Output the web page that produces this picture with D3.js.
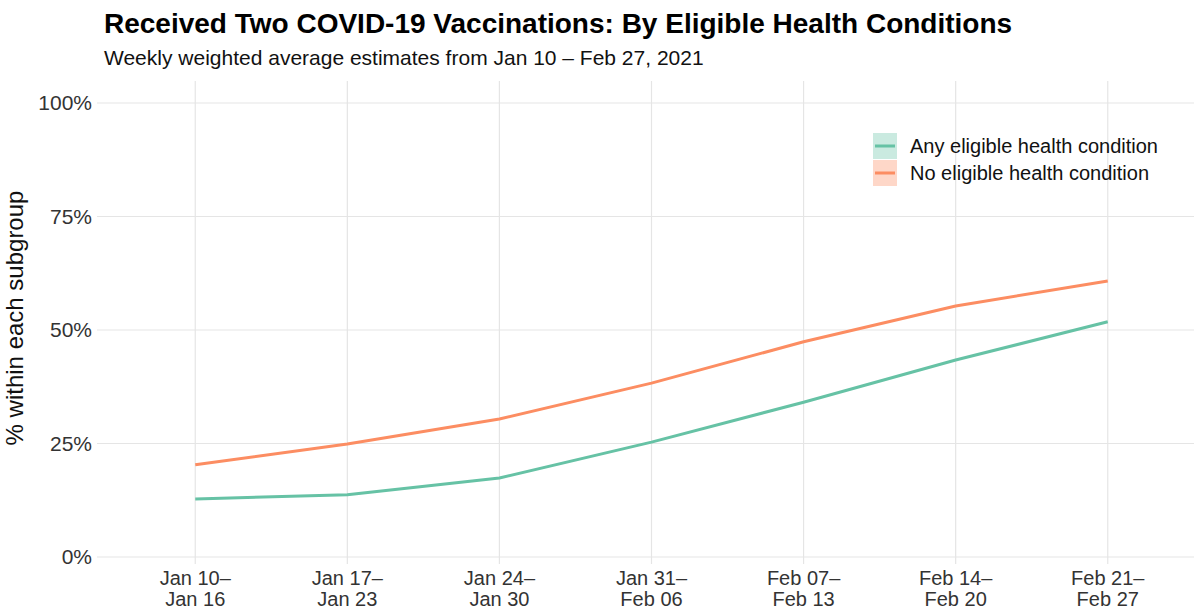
<!DOCTYPE html>
<html>
<head>
<meta charset="utf-8">
<script src="https://cdn.jsdelivr.net/npm/d3@7"></script>
<style>
  body { margin: 0; background: #fff; }
  svg text { font-family: "Liberation Sans", Arial, sans-serif; }
</style>
</head>
<body>
<div id="chart"></div>
<script>
// week labels (two lines each)
var weekStart = ["Jan 10\u2013", "Jan 17\u2013", "Jan 24\u2013", "Jan 31\u2013", "Feb 07\u2013", "Feb 14\u2013", "Feb 21\u2013"];
var weekEnd = ["Jan 16", "Jan 23", "Jan 30", "Feb 06", "Feb 13", "Feb 20", "Feb 27"];

// % received two doses
var anyCondition = [12.8, 13.7, 17.4, 25.3, 34.1, 43.4, 51.8];
var noCondition = [20.3, 24.9, 30.4, 38.3, 47.4, 55.3, 60.8];

var seriesNames = ["Any eligible health condition", "No eligible health condition"];
var seriesColors = ["#66c2a5", "#fc8d62"];

var yTicks = [0, 25, 50, 75, 100];

var svgWidth = 1194, svgHeight = 612;
var margin = { top: 81, right: -5, bottom: 55, left: 104 };

var svg = d3.select("#chart")
    .append("svg")
    .attr("width", svgWidth)
    .attr("height", svgHeight);

var xScale = d3.scalePoint()
    .domain(weekStart)
    .range([margin.left, svgWidth - margin.right])
    .padding(0.6);

var yScale = d3.scaleLinear()
    .domain([0, 100])
    .range([557, 103]);

// grid
var grid = svg.append("g");
grid.selectAll(".hgrid")
    .data(yTicks)
    .enter()
    .append("line")
    .attr("x1", margin.left - 7)
    .attr("x2", svgWidth)
    .attr("y1", d => yScale(d))
    .attr("y2", d => yScale(d))
    .attr("stroke", "#e5e5e5")
    .attr("stroke-width", 1.2);

grid.selectAll(".vgrid")
    .data(weekStart)
    .enter()
    .append("line")
    .attr("x1", d => xScale(d))
    .attr("x2", d => xScale(d))
    .attr("y1", margin.top)
    .attr("y2", 564)
    .attr("stroke", "#e5e5e5")
    .attr("stroke-width", 1.2);

// y tick labels
svg.append("g").selectAll("text")
    .data(yTicks)
    .enter()
    .append("text")
    .attr("x", 92)
    .attr("y", d => yScale(d))
    .attr("dy", "0.35em")
    .attr("text-anchor", "end")
    .attr("font-size", 21)
    .attr("fill", "#333")
    .text(d => d + "%");

// x tick labels
var xLab = svg.append("g").selectAll("text")
    .data(weekStart)
    .enter()
    .append("text")
    .attr("text-anchor", "middle")
    .attr("font-size", 20)
    .attr("fill", "#333");
xLab.append("tspan")
    .attr("x", d => xScale(d))
    .attr("y", 585)
    .text(d => d);
xLab.append("tspan")
    .attr("x", d => xScale(d))
    .attr("y", 606)
    .text((d, i) => weekEnd[i]);

// y axis title
svg.append("text")
    .attr("text-anchor", "middle")
    .attr("transform", "translate(23,318)rotate(-90)")
    .attr("font-size", 24)
    .attr("fill", "#111")
    .text("% within each subgroup");

// lines
var line = d3.line()
    .x((d, i) => xScale(weekStart[i]))
    .y(d => yScale(d));

[anyCondition, noCondition].forEach(function(vals, k) {
    svg.append("path")
        .datum(vals)
        .attr("fill", "none")
        .attr("stroke", seriesColors[k])
        .attr("stroke-width", 3)
        .attr("stroke-linejoin", "round")
        .attr("d", line);
});

// legend
var legend = svg.append("g").attr("transform", "translate(873,133)");
seriesNames.forEach(function(name, k) {
    var g = legend.append("g").attr("transform", "translate(0," + (k * 27) + ")");
    g.append("rect")
        .attr("width", 24)
        .attr("height", 26)
        .attr("fill", seriesColors[k])
        .attr("fill-opacity", 0.35);
    g.append("line")
        .attr("x1", 2).attr("x2", 22)
        .attr("y1", 13).attr("y2", 13)
        .attr("stroke", seriesColors[k])
        .attr("stroke-width", 3);
    g.append("text")
        .attr("x", 37)
        .attr("y", 13)
        .attr("dy", "0.35em")
        .attr("font-size", 20)
        .attr("fill", "#111")
        .text(name);
});

// titles
svg.append("text")
    .attr("x", 104)
    .attr("y", 33)
    .attr("font-size", 28)
    .attr("font-weight", "bold")
    .attr("fill", "#000")
    .text("Received Two COVID-19 Vaccinations: By Eligible Health Conditions");

svg.append("text")
    .attr("x", 104)
    .attr("y", 65)
    .attr("font-size", 21)
    .attr("fill", "#111")
    .text("Weekly weighted average estimates from Jan 10 \u2013 Feb 27, 2021");
</script>
</body>
</html>
